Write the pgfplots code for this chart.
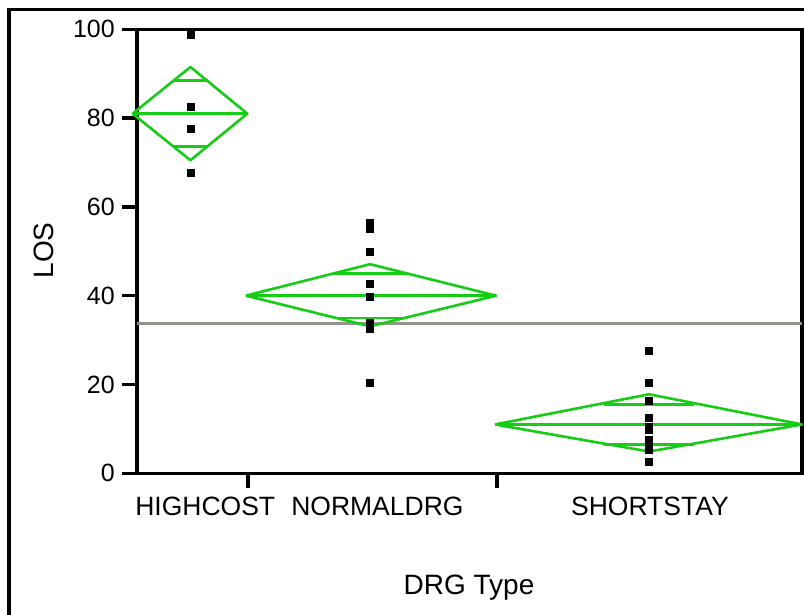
\documentclass[border=0pt]{standalone}
\usepackage{fontspec}
\setmainfont{Liberation Sans}
\usepackage{pgfplots}
\pgfplotsset{compat=1.18}
\definecolor{jmpgreen}{RGB}{20,205,20}
\definecolor{refgrey}{RGB}{150,147,143}
\begin{document}
\begin{tikzpicture}[x=1pt,y=1pt]
\useasboundingbox (0,0) rectangle (804,615);
\draw[line width=3.5pt] (806,605.3) -- (9,605.3) -- (9,-2);
\begin{axis}[
  at={(137pt,141.7pt)}, anchor=south west,
  scale only axis, width=665pt, height=444pt,
  xmin=0, xmax=24, ymin=0, ymax=100,
  clip=false,
  axis line style={line width=3.5pt},
  tick style={line width=3.5pt, black},
  tick align=outside, tick pos=left,
  major tick length=15pt,
  xtick={4,13}, xticklabels={},
  ytick={0,20,40,60,80,100},
  yticklabel style={anchor=east, inner sep=0pt, xshift=-7pt, font=\fontsize{25}{28}\selectfont},
  /pgf/number format/assume math mode=true,
]
% grand mean
\addplot[refgrey, line width=2.5pt] coordinates {(0,33.7) (24,33.7)};
% HIGHCOST diamond
\addplot[jmpgreen, line width=2.6pt, line join=round] coordinates {(-0.16,81.0) (1.93,91.5) (3.98,81.0) (1.93,70.5) (-0.16,81.0)};
\addplot[jmpgreen, line width=2.6pt] coordinates {(-0.16,81.0) (3.98,81.0)};
\addplot[jmpgreen, line width=2.6pt] coordinates {(1.29,88.45) (2.57,88.45)};
\addplot[jmpgreen, line width=2.6pt] coordinates {(1.29,73.55) (2.57,73.55)};
% NORMALDRG diamond
\addplot[jmpgreen, line width=2.6pt, line join=round] coordinates {(3.93,40.0) (8.41,47.1) (12.96,40.0) (8.41,33.1) (3.93,40.0)};
\addplot[jmpgreen, line width=2.6pt] coordinates {(3.93,40.0) (12.96,40.0)};
\addplot[jmpgreen, line width=2.6pt] coordinates {(7.08,45.0) (9.74,45.0)};
\addplot[jmpgreen, line width=2.6pt] coordinates {(7.08,35.0) (9.74,35.0)};
% SHORTSTAY diamond
\addplot[jmpgreen, line width=2.6pt, line join=round] coordinates {(12.92,11.0) (18.48,17.8) (24.0,11.0) (18.48,4.9) (12.92,11.0)};
\addplot[jmpgreen, line width=2.6pt] coordinates {(12.92,11.0) (24.0,11.0)};
\addplot[jmpgreen, line width=2.6pt] coordinates {(16.86,15.5) (20.10,15.5)};
\addplot[jmpgreen, line width=2.6pt] coordinates {(16.86,6.5) (20.10,6.5)};
% points
\addplot[only marks, mark=square*, mark size=3.5pt, black] coordinates {
(1.93,98.7) (1.93,82.5) (1.93,77.5) (1.93,67.6)
(8.41,56.4) (8.41,55.2) (8.41,49.8) (8.41,42.6) (8.41,39.8) (8.41,33.9) (8.41,32.5) (8.41,32.5) (8.41,20.4)
(18.48,27.6) (18.48,20.4) (18.48,16.4) (18.48,12.6) (18.48,10.4) (18.48,9.9) (18.48,7.6) (18.48,6.8) (18.48,6.0) (18.48,5.3) (18.48,2.6)
};
% category labels
\node[anchor=base west, inner sep=0pt, yshift=-42.7pt, font=\fontsize{26.5}{30}\selectfont] at (axis cs:-0.07,0) {HIGHCOST};
\node[anchor=base west, inner sep=0pt, yshift=-42.7pt, font=\fontsize{26.5}{30}\selectfont] at (axis cs:5.56,0) {NORMALDRG};
\node[anchor=base, inner sep=0pt, yshift=-42.7pt, font=\fontsize{26.5}{30}\selectfont] at (axis cs:18.51,0) {SHORTSTAY};
\end{axis}
\node[anchor=base, inner sep=0pt, font=\fontsize{28}{32}\selectfont] at (469,20) {DRG Type};
\node[anchor=base, rotate=90, inner sep=0pt, font=\fontsize{28}{32}\selectfont] at (53.3,364.5) {LOS};
\end{tikzpicture}
\end{document}
